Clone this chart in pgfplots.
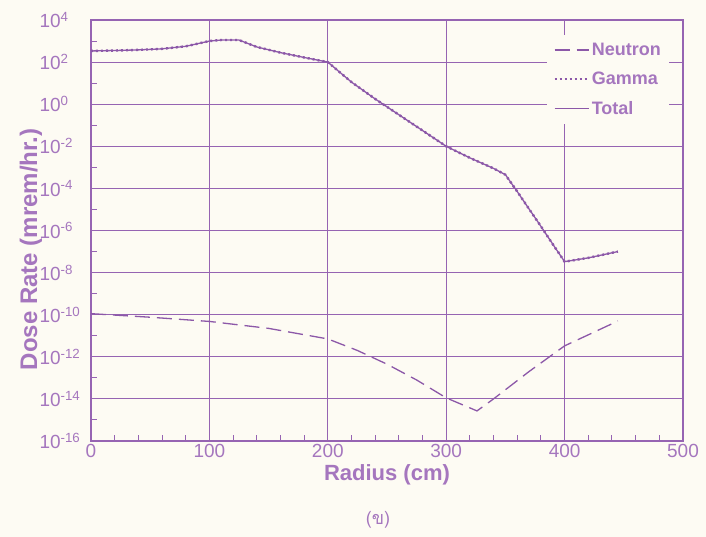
\documentclass[border=0pt]{standalone}
\usepackage{pgfplots}
\pgfplotsset{compat=1.18}
\usepackage{fontspec}
\setmainfont{Liberation Sans}
\newfontfamily\thaifont[Script=Thai]{Loma}
\definecolor{bg}{RGB}{253,251,243}
\definecolor{pline}{RGB}{140,88,168}
\definecolor{ptext}{RGB}{165,118,190}
\definecolor{pgrid}{RGB}{150,100,178}
\begin{document}
\begin{tikzpicture}
\fill[bg] (-91pt,-96pt) rectangle (615pt,441pt);
\path[use as bounding box] (-91pt,-96pt) rectangle (615pt,441pt);
\begin{axis}[
  scale only axis, width=592pt, height=421pt,
  xmin=0, xmax=500, ymin=1e-16, ymax=1e4, ymode=log,
  xtick={0,100,200,300,400,500}, xticklabels={0,100,200,300,400,500},
  minor x tick num=4,
  ytick={1e-16,1e-14,1e-12,1e-10,1e-8,1e-6,1e-4,1e-2,1,1e2,1e4},
  yticklabels={10\textsuperscript{-16},10\textsuperscript{-14},10\textsuperscript{-12},10\textsuperscript{-10},10\textsuperscript{-8},10\textsuperscript{-6},10\textsuperscript{-4},10\textsuperscript{-2},10\textsuperscript{0},10\textsuperscript{2},10\textsuperscript{4}},
  minor ytick={1e-15,1e-13,1e-11,1e-9,1e-7,1e-5,1e-3,1e-1,1e1,1e3},
  grid=major, major grid style={pgrid, line width=1.1pt},
  axis line style={pgrid, line width=1.4pt},
  tick style={pgrid, line width=1pt},
  major tick length=6pt, minor tick length=6pt,
  tick pos=left,
  tick label style={font=\fontsize{19}{22}\selectfont, text=ptext},
  yticklabel style={anchor=west, xshift=-55pt},
  xlabel={Radius (cm)}, ylabel={Dose Rate (mrem/hr.)},
  label style={font=\fontsize{22}{26}\selectfont\bfseries, text=ptext},
  ylabel style={at={(axis description cs:-0.1014,0.455)}, anchor=center, font=\fontsize{24}{28}\selectfont\bfseries},
  legend style={at={(1,1)}, xshift=-14pt, yshift=-15pt, anchor=north east, draw=none, fill=bg,
    font=\fontsize{18}{21}\selectfont\bfseries, text=ptext, row sep=11pt, inner sep=6pt},
  legend cell align=left,
  legend image code/.code={\draw[#1] (0pt,0pt) -- (34pt,0pt);},
]
\addplot[pline, line width=1.3pt, dash pattern=on 15pt off 7pt] coordinates {
(0,1.12e-10) (50,7.59e-11) (100,4.79e-11) (150,2.24e-11) (200,7.08e-12)
(225,2.0e-12) (250,4.47e-13) (275,7.94e-14) (300,1.12e-14) (326,2.69e-15)
(340,1.0e-14) (370,2.0e-13) (400,3.31e-12) (445,5.01e-11)};
\addlegendentry{Neutron}
\addplot[pline, line width=2.4pt, dash pattern=on 2pt off 3pt] coordinates {
(0,3.39e2) (20,3.55e2) (40,3.80e2) (60,4.27e2) (80,5.62e2) (100,1.0e3) (110,1.12e3)
(125,1.12e3) (140,5.25e2) (160,2.82e2) (180,1.66e2) (200,1.0e2) (220,1.12e1)
(240,1.78) (260,3.16e-1) (280,5.62e-2) (300,1.0e-2) (320,2.82e-3) (340,8.91e-4)
(350,4.47e-4) (360,7.08e-5) (370,1.05e-5) (380,1.58e-6) (390,2.24e-7) (400,3.31e-8)
(420,5.01e-8) (445,1.0e-7)};
\addlegendentry{Gamma}
\addplot[pline, line width=1.3pt] coordinates {
(0,3.39e2) (20,3.55e2) (40,3.80e2) (60,4.27e2) (80,5.62e2) (100,1.0e3) (110,1.12e3)
(125,1.12e3) (140,5.25e2) (160,2.82e2) (180,1.66e2) (200,1.0e2) (220,1.12e1)
(240,1.78) (260,3.16e-1) (280,5.62e-2) (300,1.0e-2) (320,2.82e-3) (340,8.91e-4)
(350,4.47e-4) (360,7.08e-5) (370,1.05e-5) (380,1.58e-6) (390,2.24e-7) (400,3.31e-8)
(420,5.01e-8) (445,1.0e-7)};
\addlegendentry{Total}
\end{axis}
\node[font=\thaifont\fontsize{18}{21}\selectfont, text=ptext] at (287pt,-79pt) {(ข)};
\end{tikzpicture}
\end{document}
